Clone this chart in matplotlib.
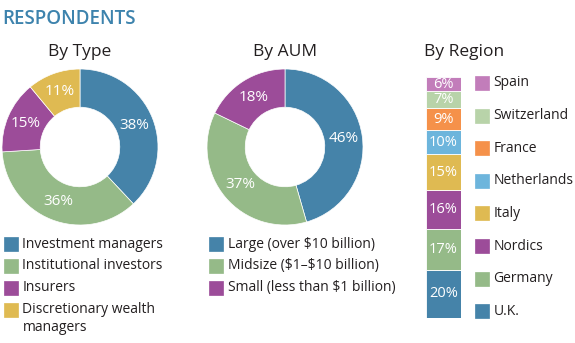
import numpy as np
import matplotlib
matplotlib.use("Agg")
import matplotlib.pyplot as plt
from matplotlib.patches import Rectangle

plt.rcParams['font.family'] = ['Open Sans', 'DejaVu Sans']

# --- data ---
type_labels = ["Investment managers", "Institutional investors", "Insurers",
               "Discretionary wealth\nmanagers"]
type_values = [38, 36, 15, 11]

aum_labels = ["Large (over \\$10 billion)", "Midsize (\\$1\u2013\\$10 billion)",
              "Small (less than \\$1 billion)"]
aum_values = [46, 37, 18]

region_labels = ["U.K.", "Germany", "Nordics", "Italy", "Netherlands",
                 "France", "Switzerland", "Spain"]
region_values = [20, 17, 16, 15, 10, 9, 7, 6]

BLUE = "#4583a9"
GREEN = "#95ba88"
PURPLE = "#9c4c99"
YELLOW = "#dfba52"
ORANGE = "#f5914a"
LBLUE = "#6db5dc"
LGREEN = "#b8d3a9"
LPURPLE = "#c27dba"
TXT = "#231f20"

type_colors = [BLUE, GREEN, PURPLE, YELLOW]
aum_colors = [BLUE, GREEN, PURPLE]
region_colors = [BLUE, GREEN, PURPLE, YELLOW, LBLUE, ORANGE, LGREEN, LPURPLE]

W, H = 575, 343
fig = plt.figure(figsize=(W / 100, H / 100), dpi=100)


def px_axes(x0, y0, w, h):
    # pixel box (top-left origin) -> figure axes
    return fig.add_axes([x0 / W, 1 - (y0 + h) / H, w / W, h / H])


def donut(cx, cy, r, values, colors):
    ax = px_axes(cx - r, cy - r, 2 * r, 2 * r)
    wedges, _ = ax.pie(values, colors=colors, startangle=90, counterclock=False,
                       radius=1, wedgeprops=dict(width=0.49, edgecolor="white", linewidth=0.5))
    for w, v in zip(wedges, values):
        ang = np.deg2rad((w.theta1 + w.theta2) / 2)
        ax.text(0.755 * np.cos(ang), 0.755 * np.sin(ang), f"{v}%", color="white",
                ha="center", va="center", fontsize=11)
    ax.set_xlim(-1, 1)
    ax.set_ylim(-1, 1)
    ax.set_aspect("equal")
    ax.axis("off")


donut(80, 147, 78, type_values, type_colors)
donut(285, 147, 78, aum_values, aum_colors)

# stacked region bar
axb = px_axes(426, 77, 35, 241)
bottoms = np.concatenate([[0], np.cumsum(region_values)[:-1]])
for v, b, c in zip(region_values, bottoms, region_colors):
    axb.bar(0, v, bottom=b, width=1, color=c, edgecolor="white", linewidth=0.6)
    axb.text(0, b + v / 2, f"{v}%", color="white", ha="center", va="center", fontsize=10.5)
axb.set_xlim(-0.5, 0.5)
axb.set_ylim(0, sum(region_values))
axb.axis("off")

# overlay for titles and legends (pixel coordinates)
ov = fig.add_axes([0, 0, 1, 1])
ov.set_xlim(0, W)
ov.set_ylim(H, 0)
ov.axis("off")

ov.text(2, 19, "RESPONDENTS", color="#3d83ad", fontsize=13.5, fontweight="semibold",
        ha="left", va="center")
ov.text(80, 52, "By Type", color=TXT, fontsize=12.5, ha="center", va="center")
ov.text(285, 52, "By AUM", color=TXT, fontsize=12.5, ha="center", va="center")
ov.text(464, 52, "By Region", color=TXT, fontsize=12.5, ha="center", va="center")


def legend_rows(x, ys, labels, colors):
    for y, lab, c in zip(ys, labels, colors):
        ov.add_patch(Rectangle((x, y - 7), 14, 14, facecolor=c, edgecolor=c, lw=0.5))
        ov.text(x + 18.5, y - 7.5, lab, color=TXT, fontsize=10, ha="left", va="top",
                linespacing=1.25)


legend_rows(4, [244, 265.5, 287.5, 309.5], type_labels, type_colors)
legend_rows(209, [244, 265.5, 287.5], aum_labels, aum_colors)
reg_y = [83 + 32.6 * i for i in range(len(region_labels))][::-1]
legend_rows(475, reg_y, region_labels, region_colors)

fig.savefig("out.png", dpi=100)
